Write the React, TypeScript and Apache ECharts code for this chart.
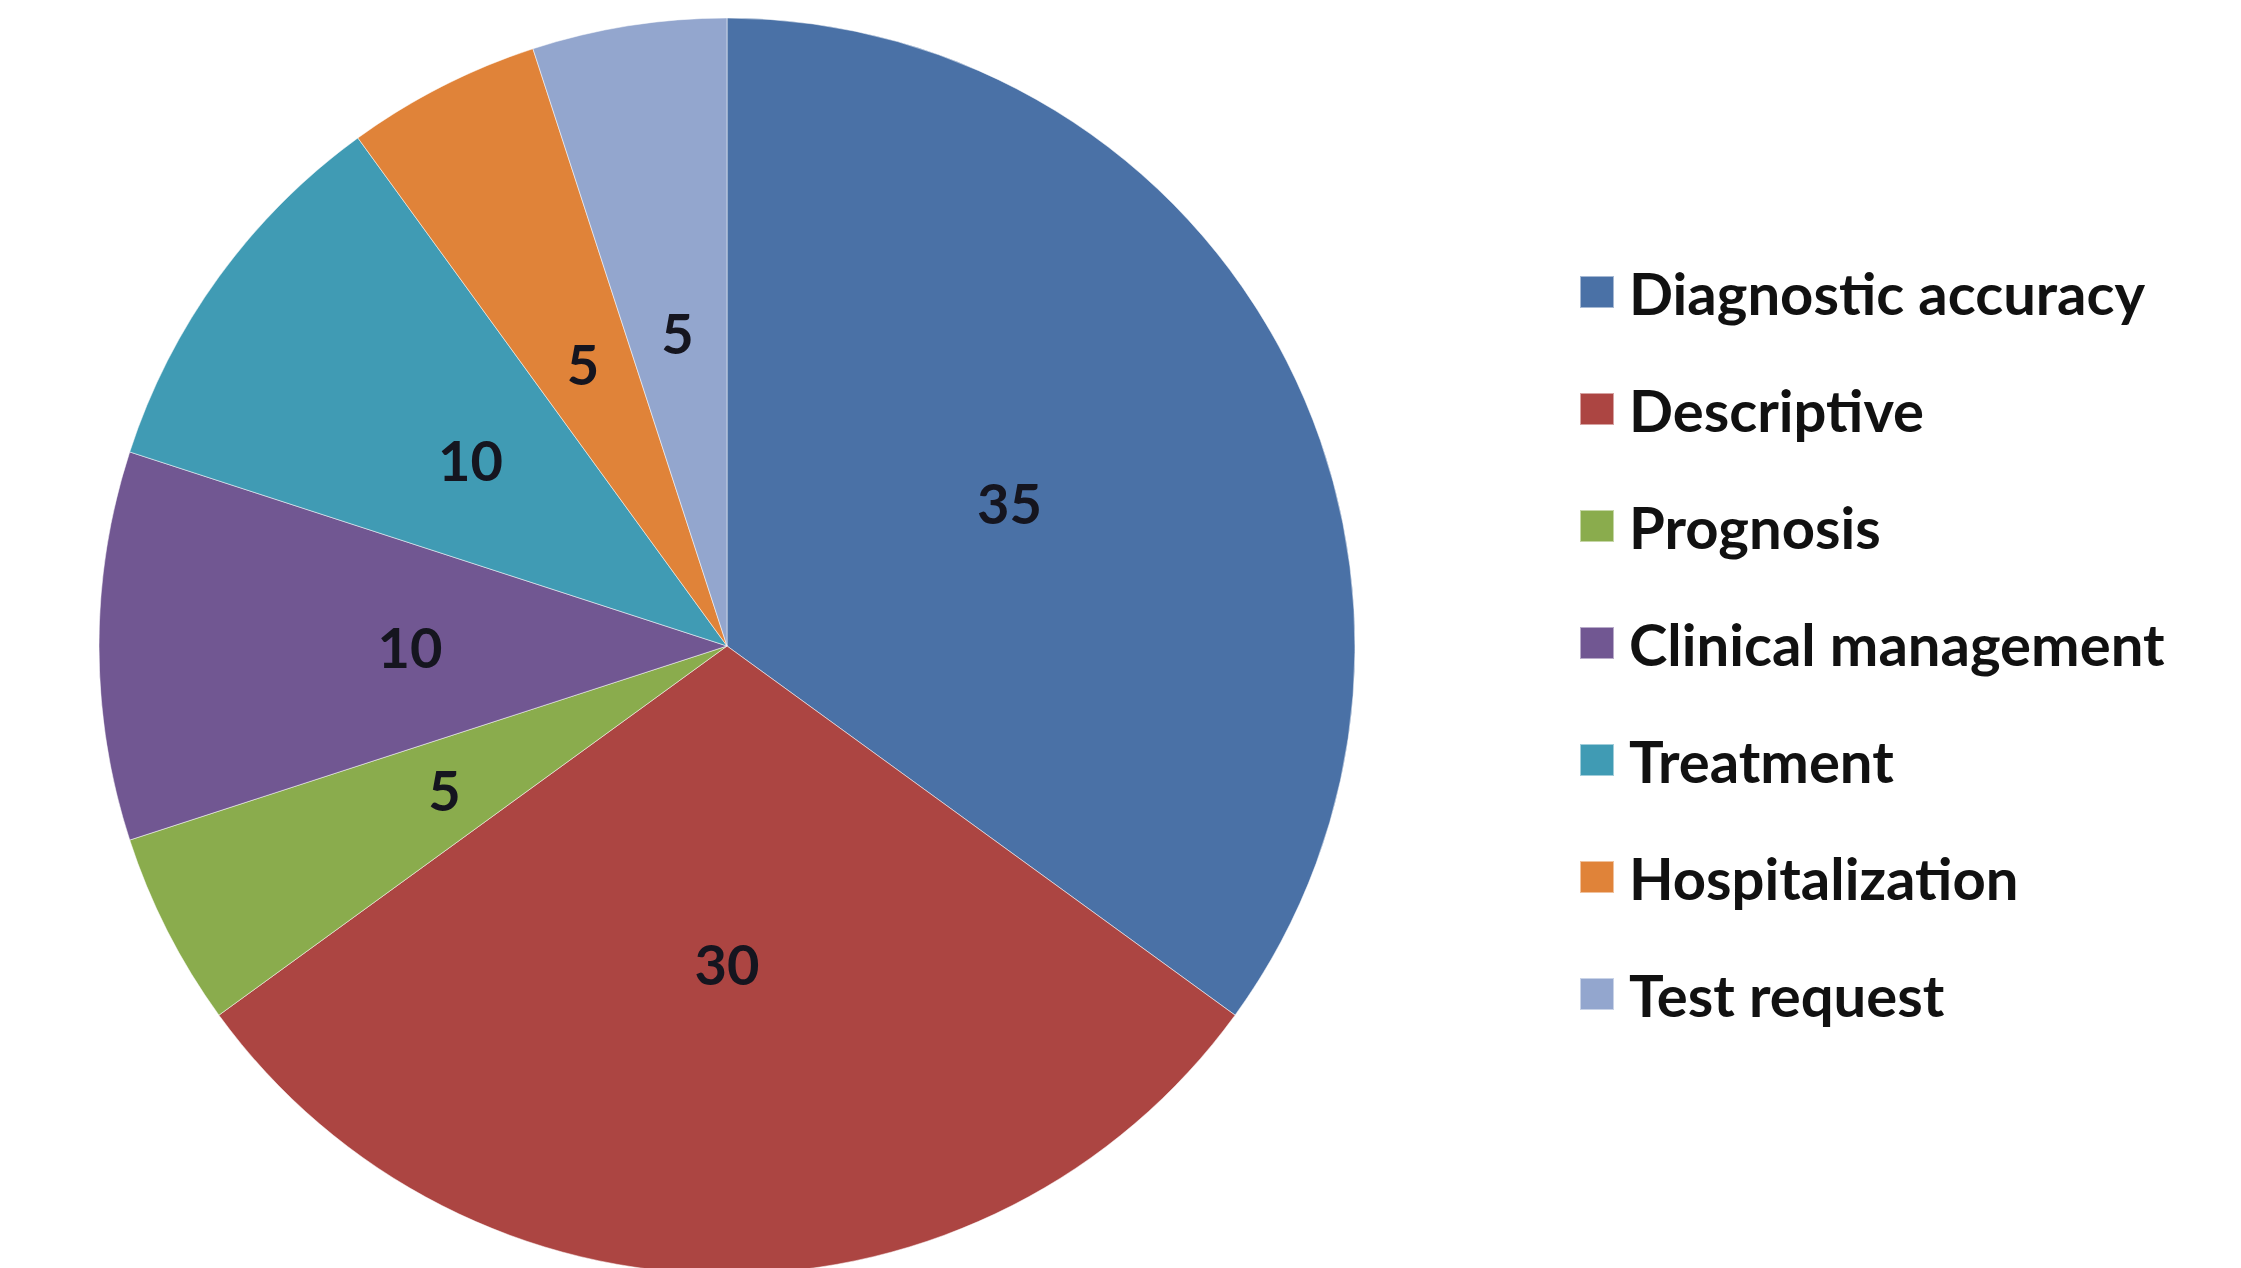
import React, { useEffect, useRef } from "react";
import * as echarts from "echarts";

const categories = [
  "Diagnostic accuracy",
  "Descriptive",
  "Prognosis",
  "Clinical management",
  "Treatment",
  "Hospitalization",
  "Test request",
];
const values = [35, 30, 5, 10, 10, 5, 5];
const colors = ["#4A71A6", "#AC4542", "#8AAC4D", "#715792", "#409BB4", "#E08339", "#93A6CE"];

export default function App() {
  const ref = useRef<HTMLDivElement>(null);
  useEffect(() => {
    if (!ref.current) return;
    const chart = echarts.init(ref.current, null, { renderer: "svg" });
    chart.setOption({
      animation: false,
      backgroundColor: "#ffffff",
      color: colors,
      legend: {
        orient: "vertical",
        left: 1574,
        top: 255,
        itemWidth: 34,
        itemHeight: 32,
        itemGap: 53,
        icon: "rect",
        textStyle: {
          fontFamily: "Lato",
          fontWeight: "bold",
          fontSize: 58,
          lineHeight: 64,
          color: "#111111",
          padding: [0, 0, 0, 10],
        },
        data: categories,
      },
      series: [
        {
          type: "pie",
          center: [727, 646],
          radius: 628,
          startAngle: 90,
          clockwise: true,
          itemStyle: { borderColor: "rgba(255,255,255,0.5)", borderWidth: 1 },
          label: {
            show: true,
            position: "inside",
            formatter: "{c}",
            fontFamily: "Lato",
            fontWeight: "bold",
            fontSize: 56,
            color: "#15151f",
          },
          labelLine: { show: false },
          emphasis: { disabled: true },
          data: categories.map((name, i) => ({ name, value: values[i] })),
        },
      ],
    });
    return () => chart.dispose();
  }, []);
  return (
    <div
      ref={ref}
      style={{ position: "fixed", left: 0, top: 0, width: 2241, height: 1268 }}
    />
  );
}
